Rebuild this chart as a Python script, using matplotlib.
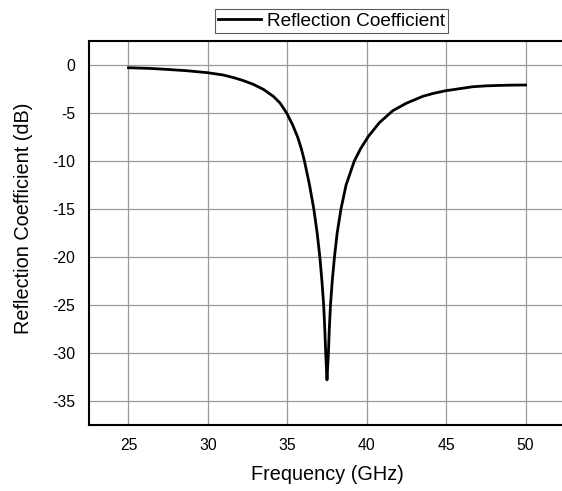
import matplotlib
matplotlib.use('Agg')
from matplotlib import pyplot as plt

plt.rcParams['font.family'] = ['Liberation Sans', 'DejaVu Sans']
plt.rcParams['axes.unicode_minus'] = False

# values
freq_ghz = [25.0, 26.34, 27.39, 28.66, 30.0, 30.97, 31.6, 32.23, 32.86, 33.49,
            34.12, 34.54, 34.96, 35.34, 35.65, 35.89, 36.08, 36.40, 36.67, 36.88,
            37.05, 37.18, 37.29, 37.36, 37.42, 37.46, 37.50, 37.54, 37.59, 37.645,
            37.72, 37.83, 37.97, 38.14, 38.38, 38.70, 39.22, 39.62, 40.12, 40.8,
            41.64, 42.48, 43.53, 44.2, 45.0, 46.68, 47.5, 48.36, 49.2, 50.0]
reflection_db = [-0.28, -0.35, -0.45, -0.59, -0.80, -1.04, -1.30, -1.62, -2.01, -2.53,
                 -3.26, -3.95, -5.0, -6.25, -7.5, -8.75, -10.0, -12.5, -15.0, -17.5,
                 -20.0, -22.5, -25.0, -27.5, -30.0, -31.5, -32.8, -31.5, -30.0, -27.5,
                 -25.0, -22.5, -20.0, -17.5, -15.0, -12.5, -10.0, -8.7, -7.4, -6.0,
                 -4.76, -3.99, -3.26, -2.95, -2.67, -2.26, -2.17, -2.12, -2.09, -2.08]
x_ticks = [25, 30, 35, 40, 45, 50]
y_ticks = [0, -5, -10, -15, -20, -25, -30, -35]

fig = plt.figure(figsize=(5.62, 4.91), dpi=100)
ax = fig.add_axes([0.158, 0.1344, 0.8477, 0.782])

line, = ax.plot(freq_ghz, reflection_db, color='black', linewidth=2.0,
                label='Reflection Coefficient')

ax.set_xlim(22.5, 52.5)
ax.set_ylim(-37.5, 2.5)
ax.set_xticks(x_ticks)
ax.set_yticks(y_ticks)
ax.tick_params(length=0, labelsize=11.3)
ax.tick_params(axis='x', pad=9)
ax.tick_params(axis='y', pad=10)
ax.grid(True, color='#999999', linewidth=0.9)
ax.set_axisbelow(True)

for side in ['left', 'bottom', 'top']:
    ax.spines[side].set_linewidth(1.5)
    ax.spines[side].set_color('black')
ax.spines['right'].set_visible(False)

ax.set_xlabel('Frequency (GHz)', fontsize=14.3)
ax.set_ylabel('Reflection Coefficient (dB)', fontsize=14.3)
ax.xaxis.set_label_coords(0.5, -0.103)
ax.yaxis.set_label_coords(-0.118, 0.539)

leg = fig.legend(handles=[line], loc='center', bbox_to_anchor=(331.5 / 562, 1 - 21 / 491),
                 fontsize=13.7, frameon=True, fancybox=False, handlelength=2.26,
                 handletextpad=0.3, borderpad=0.15, borderaxespad=0)
leg.get_frame().set_edgecolor('#333333')
leg.get_frame().set_linewidth(0.8)

plt.savefig('out.png', dpi=100)
